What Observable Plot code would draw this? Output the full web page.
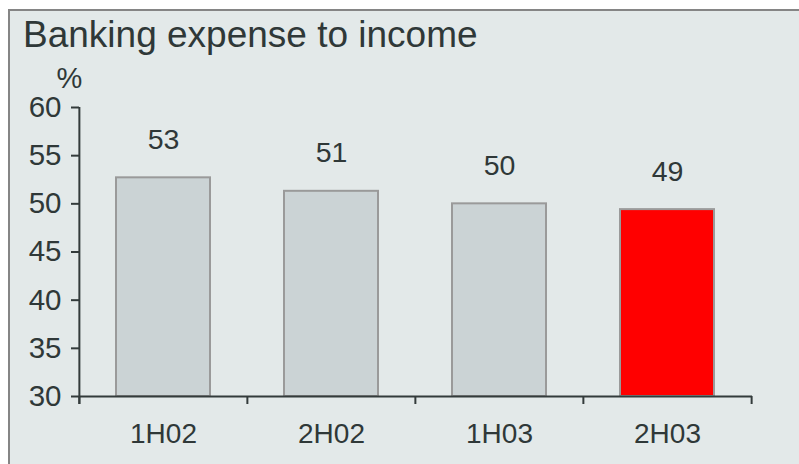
<!DOCTYPE html>
<html>
<head>
<meta charset="utf-8">
<script src="https://cdn.jsdelivr.net/npm/d3@7"></script>
<script src="https://cdn.jsdelivr.net/npm/@observablehq/plot@0.6"></script>
<style>
  html, body { margin: 0; padding: 0; background: #ffffff; }
  #frame { position: absolute; left: 8px; top: 9px; width: 800px; height: 470px; box-sizing: border-box;
           border: 2px solid #858585; background: #e3e9e9; }
  #title { position: absolute; left: 23px; top: 14px; font-family: "Liberation Sans", Arial, sans-serif;
           font-size: 37px; color: #2f3838; white-space: nowrap; }
  #chart { position: absolute; left: 0; top: 58px; }
</style>
</head>
<body>
<div id="frame"></div>
<div id="title">Banking expense to income</div>
<div id="chart"></div>
<script>
const categories = ["1H02", "2H02", "1H03", "2H03"];
const values = [52.7, 51.3, 50.0, 49.4];
const valueLabels = ["53", "51", "50", "49"];
const highlighted = "2H03";
const yTicks = [30, 35, 40, 45, 50, 55, 60];
const yUnit = "%";

const data = categories.map((c, i) => ({cat: c, value: values[i], label: valueLabels[i]}));

const W = 799, H = 406, mL = 79, mR = 47, mT = 49, mB = 68;
const step = (W - mL - mR) / categories.length;
const ink = "#2f3838";
const axisInk = "#333b3b";

const chart = Plot.plot({
  width: W, height: H,
  marginLeft: mL, marginRight: mR, marginTop: mT, marginBottom: mB,
  style: {background: "transparent", fontFamily: "'Liberation Sans', Arial, sans-serif", fontSize: "28px", color: ink, overflow: "visible"},
  x: {domain: categories, paddingInner: 0.44, paddingOuter: 0.22, label: null},
  y: {domain: [30, 60], label: null},
  marks: [
    Plot.barY(data, {x: "cat", y1: 30, y2: "value",
      fill: d => d.cat === highlighted ? "#ff0000" : "#cbd3d5",
      stroke: "#9a9a9a", strokeWidth: 2}),
    Plot.ruleY([30], {stroke: axisInk, strokeWidth: 2}),
    Plot.ruleX([categories[0]], {x: d => d, y1: 60, y2: 30, dx: -step / 2, insetBottom: -8, stroke: axisInk, strokeWidth: 2}),
    Plot.ruleX(categories, {x: d => d, y1: 30, y2: 30, dx: -step / 2, insetBottom: -8, stroke: axisInk, strokeWidth: 2}),
    Plot.ruleX([categories[categories.length - 1]], {x: d => d, y1: 30, y2: 30, dx: step / 2, insetBottom: -8, stroke: axisInk, strokeWidth: 2}),
    Plot.axisY({ticks: yTicks, tickSize: 8, tickPadding: 10, stroke: axisInk, strokeWidth: 2, fill: ink, fontSize: 29.5, label: null}),
    Plot.axisX({tickSize: 0, tickPadding: 27, fill: ink, fontSize: 28, label: null}),
    Plot.text(data, {x: "cat", y: "value", text: "label", dy: -38, fill: ink, fontSize: 28.5}),
    Plot.text([yUnit], {text: d => d, frameAnchor: "top-left", textAnchor: "middle", lineAnchor: "middle", dx: -10, dy: -29, fill: ink, fontSize: 29})
  ]
});
document.getElementById("chart").appendChild(chart);
</script>
</body>
</html>
